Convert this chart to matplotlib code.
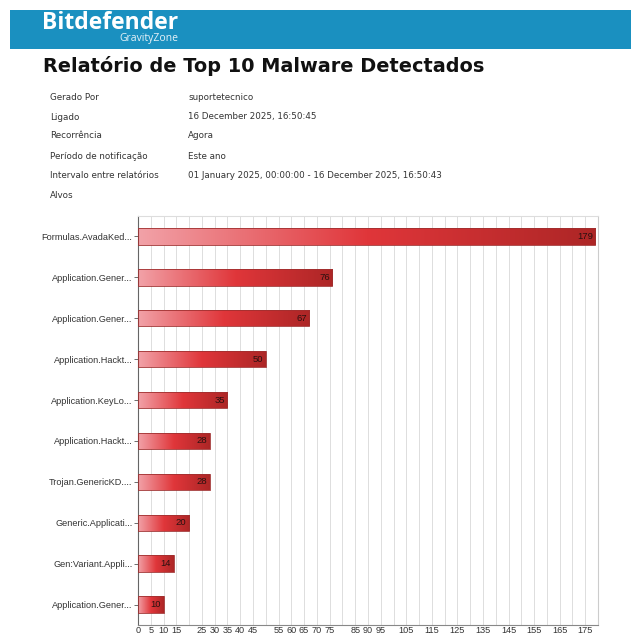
import numpy as np
import matplotlib
matplotlib.use("Agg")
import matplotlib.pyplot as plt
from matplotlib.colors import LinearSegmentedColormap
from matplotlib.patches import Rectangle

# dados do relatorio
categorias = ["Formulas.AvadaKed...", "Application.Gener...", "Application.Gener...",
              "Application.Hackt...", "Application.KeyLo...", "Application.Hackt...",
              "Trojan.GenericKD....", "Generic.Applicati...", "Gen:Variant.Appli...",
              "Application.Gener..."]
valores = [179, 76, 67, 50, 35, 28, 28, 20, 14, 10]

info_rotulos = ["Gerado Por", "Ligado", "Recorrência", "Período de notificação",
                "Intervalo entre relatórios", "Alvos"]
info_valores = ["suportetecnico", "16 December 2025, 16:50:45", "Agora", "Este ano",
                "01 January 2025, 00:00:00 - 16 December 2025, 16:50:43", ""]

ticks_x = [0, 5, 10, 15, 25, 30, 35, 40, 45, 55, 60, 65, 70, 75, 85, 90, 95,
           105, 115, 125, 135, 145, 155, 165, 175]

W, H = 631, 635
fig = plt.figure(figsize=(W / 100, H / 100), dpi=100)
fig.patch.set_facecolor("white")

# cabecalho azul
fig.patches.append(Rectangle((10 / W, 1 - 49 / H), 1, 39 / H, transform=fig.transFigure,
                             facecolor="#1a90c0", edgecolor="none", zorder=0))
fig.text(42 / W, 1 - 23 / H, "Bitdefender", color="white", fontsize=16.5, fontweight="bold",
         va="center", ha="left", family="Open Sans")
fig.text(178 / W, 1 - 39 / H, "GravityZone", color="#e6f2f8", fontsize=7.5,
         va="center", ha="right", family="Open Sans")

fig.text(43 / W, 1 - 66 / H, "Relatório de Top 10 Malware Detectados", fontsize=13.9,
         fontweight="bold", va="center", ha="left", color="#111111")

ys = [97, 117, 136, 156, 176, 195]
for y, r, v in zip(ys, info_rotulos, info_valores):
    fig.text(50 / W, 1 - y / H, r, fontsize=6.3, va="center", ha="left", color="#333333")
    fig.text(188 / W, 1 - y / H, v, fontsize=6.3, va="center", ha="left", color="#333333")

ax = fig.add_axes([138 / W, 1 - 625 / H, 460 / W, 409 / H])
ax.set_xlim(0, 180)
ax.set_ylim(9.5, -0.5)

cmap = LinearSegmentedColormap.from_list("grad", ["#f2a2a8", "#e0363a", "#ad2626"])
grad = np.linspace(0, 1, 256).reshape(1, -1)

pos = np.arange(len(valores))
barras = ax.barh(pos, valores, height=0.4, color="none", edgecolor="#a03030",
                 linewidth=0.6, zorder=3)
for b, v, p in zip(barras, valores, pos):
    im = ax.imshow(grad, cmap=cmap, aspect="auto", zorder=2,
                   extent=[0, v, p + 0.2, p - 0.2])
    im.set_clip_path(b)
    ax.text(v - 1.0, p, str(v), ha="right", va="center", fontsize=6.8, color="#2a1010",
            zorder=4, family="Liberation Sans")

ax.set_yticks(pos)
ax.set_yticklabels(categorias, fontsize=6.6, color="#333333", family="Liberation Sans")
ax.set_xticks(np.arange(0, 181, 5), minor=True)
ax.set_xticks(ticks_x)
ax.set_xticklabels([str(t) for t in ticks_x], fontsize=6.6, color="#333333",
                   family="Liberation Sans")
ax.grid(axis="x", which="both", color="#dddddd", linewidth=0.7, zorder=0)
ax.set_axisbelow(True)
ax.tick_params(axis="y", length=3, width=0.6, color="#555555", pad=1)
ax.tick_params(axis="x", which="both", length=0, pad=1)

ax.spines["left"].set_color("#666666")
ax.spines["bottom"].set_color("#888888")
ax.spines["top"].set_color("#dddddd")
ax.spines["right"].set_color("#cccccc")
for s in ax.spines.values():
    s.set_linewidth(0.8)

fig.savefig("out.png", dpi=100)
